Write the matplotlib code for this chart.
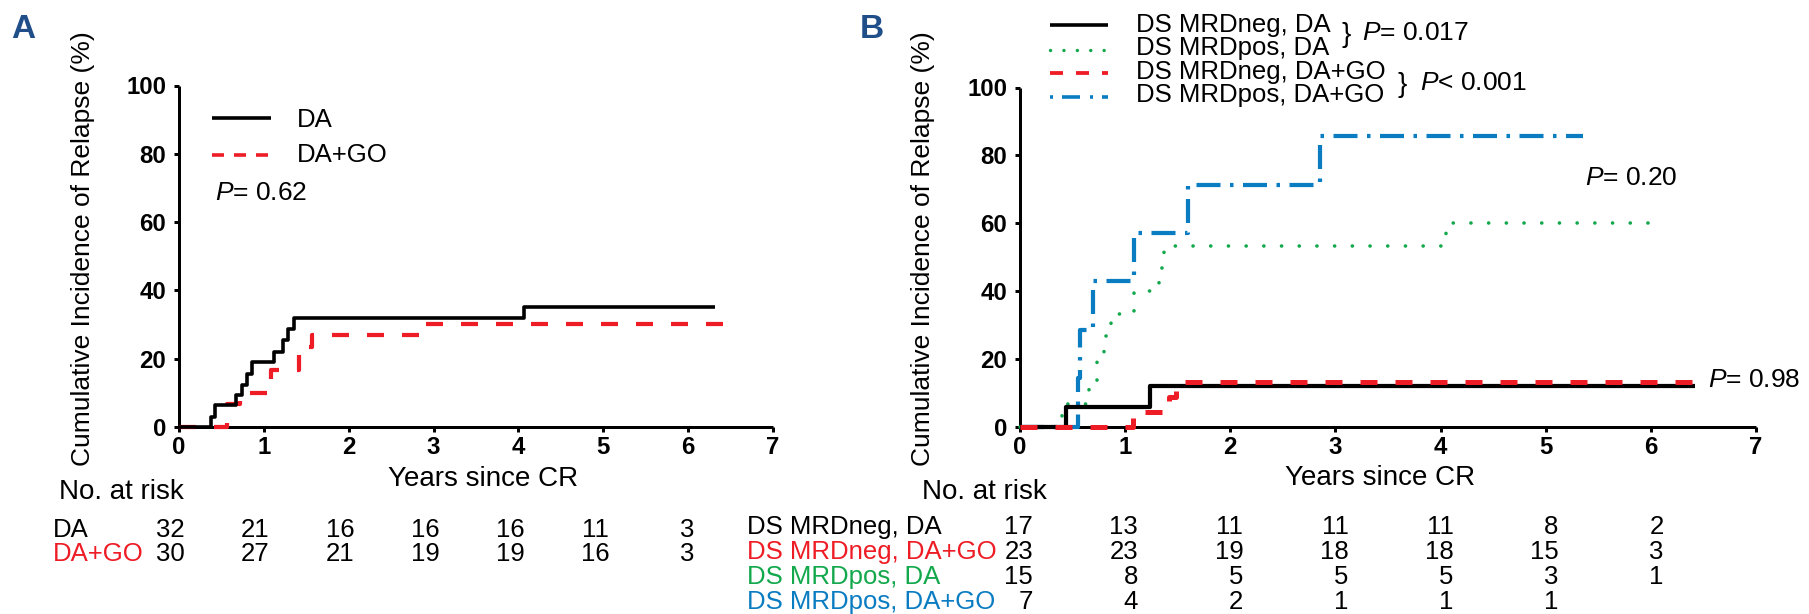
import matplotlib
matplotlib.use("Agg")
import matplotlib.pyplot as plt
from matplotlib.lines import Line2D
import matplotlib.transforms as mtransforms

plt.rcParams['font.family'] = ['Liberation Sans', 'DejaVu Sans']
plt.rcParams['mathtext.fontset'] = 'custom'
plt.rcParams['mathtext.it'] = 'Liberation Sans:italic'
plt.rcParams['mathtext.rm'] = 'Liberation Sans'
plt.rcParams['lines.scale_dashes'] = False

# ---------------- data ----------------
# Panel A
a_da_t = [0, 0.38, 0.43, 0.67, 0.74, 0.80, 0.86, 1.12, 1.22, 1.29, 1.35, 4.07, 6.32]
a_da_v = [0, 3.0, 6.3, 9.4, 12.3, 15.6, 18.9, 22.1, 25.4, 28.6, 31.8, 35.1, 35.1]
a_go_t = [0, 0.57, 0.72, 1.08, 1.42, 1.57, 2.90, 6.41]
a_go_v = [0, 6.7, 10.0, 16.7, 23.4, 26.8, 30.2, 30.2]

# Panel B
b_negda_t = [0, 0.44, 1.24, 6.42]
b_negda_v = [0, 6.0, 12.2, 12.2]
b_neggo_t = [0, 1.07, 1.42, 1.48, 6.42]
b_neggo_v = [0, 4.35, 8.9, 13.4, 13.4]
b_posda_t = [0, 0.40, 0.66, 0.73, 0.80, 0.87, 1.08, 1.32, 1.37, 4.05, 6.10]
b_posda_v = [0, 6.7, 13.3, 20.0, 26.7, 33.3, 40.0, 46.7, 53.3, 60.0, 60.0]
b_posgo_t = [0, 0.55, 0.57, 0.69, 1.08, 1.60, 2.85, 5.35]
b_posgo_v = [0, 14.3, 28.6, 42.9, 57.1, 71.4, 85.7, 85.7]

xticks = [0, 1, 2, 3, 4, 5, 6, 7]
yticks = [0, 20, 40, 60, 80, 100]

risk_times = [0, 1, 2, 3, 4, 5, 6]
a_rows = ["DA", "DA+GO"]
a_risk_da = [32, 21, 16, 16, 16, 11, 3]
a_risk_go = [30, 27, 21, 19, 19, 16, 3]

b_rows = ["DS MRDneg, DA", "DS MRDneg, DA+GO", "DS MRDpos, DA", "DS MRDpos, DA+GO"]
b_risk_negda = [17, 13, 11, 11, 11, 8, 2]
b_risk_neggo = [23, 23, 19, 18, 18, 15, 3]
b_risk_posda = [15, 8, 5, 5, 5, 3, 1]
b_risk_posgo = [7, 4, 2, 1, 1, 1]

# ---------------- style ----------------
RED = '#ee1c25'
GREEN = '#12a84b'
BLUE = '#0a7cc2'
LETTER = '#1f4e89'

W, H = 1809, 614
fig = plt.figure(figsize=(W / 100, H / 100), dpi=100)


def fx(x):
    return x / W


def fy(y):
    return 1 - y / H


def pt(px):
    return px * 0.72


axA = fig.add_axes([fx(179), fy(427), fx(773) - fx(179), fy(85.5) - fy(427)])
axB = fig.add_axes([fx(1020), fy(427), fx(1756) - fx(1020), fy(87.5) - fy(427)])

for ax in (axA, axB):
    ax.set_xlim(0, 7)
    ax.set_ylim(0, 100)
    ax.set_xticks(xticks)
    ax.set_yticks(yticks)
    for s in ('top', 'right'):
        ax.spines[s].set_visible(False)
    for s in ('left', 'bottom'):
        ax.spines[s].set_linewidth(pt(3))
        ax.spines[s].set_capstyle('butt')
    ax.tick_params(direction='out', length=pt(5), width=pt(3), labelsize=17.3)
    ax.tick_params(axis='x', pad=3)
    ax.tick_params(axis='y', pad=5.5)
    for lab in ax.get_xticklabels() + ax.get_yticklabels():
        lab.set_fontweight('bold')
    ax.patch.set_visible(False)

common = dict(drawstyle='steps-post', clip_on=False, zorder=3)

# Panel A curves
axA.plot(a_go_t, a_go_v, color=RED, lw=pt(4.2), dashes=(pt(17), pt(18)),
         dash_capstyle='butt', **common)
axA.plot(a_da_t, a_da_v, color='black', lw=pt(3.6), solid_capstyle='butt', **common)

# Panel B curves
axB.plot(b_posda_t, b_posda_v, color=GREEN, lw=pt(3.6), dashes=(pt(0.1), pt(17.6)),
         dash_capstyle='round', **common)
axB.plot(b_posgo_t, b_posgo_v, color=BLUE, lw=pt(4.2),
         dashes=(pt(24), pt(9.5), pt(3.5), pt(9.5)), dash_capstyle='butt', **common)
axB.plot(b_negda_t, b_negda_v, color='black', lw=pt(4.2), solid_capstyle='butt', **common)
axB.plot(b_neggo_t, b_neggo_v, color=RED, lw=pt(5), dashes=(pt(17), pt(18)),
         dash_capstyle='butt', **common)

# ---------------- legends (manual) ----------------
def legline(x1, x2, y, **kw):
    fig.add_artist(Line2D([fx(x1), fx(x2)], [fy(y), fy(y)], transform=fig.transFigure, **kw))


FS_LEG = 18.5
legline(212, 271, 118, color='black', lw=pt(3.6), solid_capstyle='butt')
legline(212, 271, 155, color=RED, lw=pt(3.6), dashes=(pt(12), pt(10)), dash_capstyle='butt')
fig.text(fx(297), fy(120), "DA", fontsize=FS_LEG, ha='left', va='center')
fig.text(fx(297), fy(155), "DA+GO", fontsize=FS_LEG, ha='left', va='center')
fig.text(fx(215), fy(193), "$P$= 0.62", fontsize=19, ha='left', va='center')

legline(1050, 1108, 25, color='black', lw=pt(3.6), solid_capstyle='butt')
legline(1050, 1108, 50, color=GREEN, lw=pt(3.4), dashes=(pt(0.1), pt(13.3)), dash_capstyle='round')
legline(1050, 1108, 72.7, color=RED, lw=pt(3.8), dashes=(pt(13), pt(13)), dash_capstyle='butt')
legline(1050, 1108, 96.7, color=BLUE, lw=pt(3.6), dashes=(pt(3), pt(9), pt(18), pt(10)),
        dash_capstyle='butt')
b_leg_y = [25, 48.5, 72, 95]
b_leg_labels = ["DS MRDneg, DA", "DS MRDpos, DA", "DS MRDneg, DA+GO", "DS MRDpos, DA+GO"]
for lab, yy in zip(b_leg_labels, b_leg_y):
    fig.text(fx(1136), fy(yy), lab, fontsize=FS_LEG, ha='left', va='center')

fig.text(fx(1342), fy(35), "}", fontsize=20, ha='left', va='center')
fig.text(fx(1362), fy(33), "$P$= 0.017", fontsize=19, ha='left', va='center')
fig.text(fx(1397), fy(85), "}", fontsize=20, ha='left', va='center')
fig.text(fx(1420), fy(83), "$P$< 0.001", fontsize=19, ha='left', va='center')
fig.text(fx(1585), fy(178), "$P$= 0.20", fontsize=19, ha='left', va='center')
fig.text(fx(1708), fy(380), "$P$= 0.98", fontsize=19, ha='left', va='center')

# ---------------- axis labels & panel letters ----------------
ylab = "Cumulative Incidence of Relapse (%)"
fig.text(fx(83), fy(249), ylab, rotation=90, fontsize=19, ha='center', va='center')
fig.text(fx(923), fy(249), ylab, rotation=90, fontsize=19, ha='center', va='center')
fig.text(fx(483), fy(479), "Years since CR", fontsize=20, ha='center', va='center')
fig.text(fx(1380), fy(478), "Years since CR", fontsize=20, ha='center', va='center')

fig.text(fx(23), fy(30), "A", fontsize=24, fontweight='bold', color=LETTER,
         ha='center', va='center')
fig.text(fx(872), fy(30), "B", fontsize=24, fontweight='bold', color=LETTER,
         ha='center', va='center')

# ---------------- risk tables ----------------
FS_TAB = 18.5
fig.text(fx(59), fy(492), "No. at risk", fontsize=20, ha='left', va='center')
fig.text(fx(922), fy(492), "No. at risk", fontsize=20, ha='left', va='center')


def risk_row(ax, label, color, values, ylab_x, y, dx):
    fig.text(fx(ylab_x), fy(y), label, fontsize=FS_TAB, color=color, ha='left', va='center')
    tr = mtransforms.blended_transform_factory(ax.transData, fig.transFigure)
    tr = mtransforms.offset_copy(tr, fig=fig, x=dx, y=0, units='dots')
    for t, n in zip(risk_times, values):
        fig.text(t, fy(y), str(n), transform=tr, fontsize=FS_TAB, ha='right', va='center')


risk_row(axA, a_rows[0], 'black', a_risk_da, 53, 530, 6)
risk_row(axA, a_rows[1], RED, a_risk_go, 53, 554, 6)

risk_row(axB, b_rows[0], 'black', b_risk_negda, 747, 527, 13)
risk_row(axB, b_rows[1], RED, b_risk_neggo, 747, 552, 13)
risk_row(axB, b_rows[2], GREEN, b_risk_posda, 747, 577, 13)
risk_row(axB, b_rows[3], BLUE, b_risk_posgo, 747, 602, 13)

fig.savefig("out.png", dpi=100)
